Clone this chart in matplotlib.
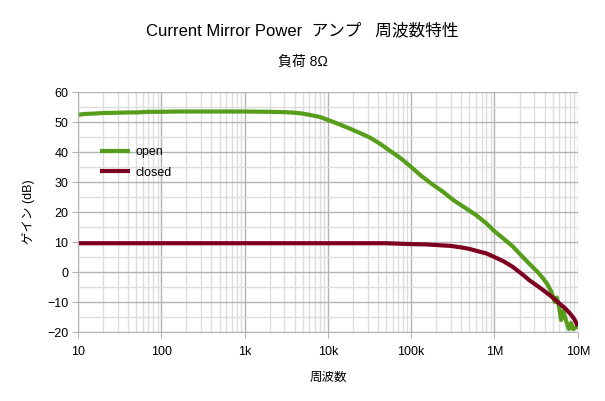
import matplotlib.pyplot as plt
from matplotlib.ticker import FixedLocator, LogLocator, MultipleLocator, NullFormatter

plt.rcParams['font.family'] = ['Liberation Sans', 'Noto Sans CJK JP', 'DejaVu Sans']

# open loop gain (dB) vs frequency (Hz)
open_freq = [10, 12, 15, 20, 30, 40, 50, 70, 100, 150, 200, 300, 500, 1000, 2000, 3000,
             4000, 5000, 6000, 8000, 10e3, 13e3, 18e3, 24e3, 32e3, 42e3, 55e3, 75e3,
             100e3, 130e3, 180e3, 240e3, 320e3, 450e3, 600e3, 800e3, 1e6, 1.3e6, 1.66e6,
             2.1e6, 2.7e6, 3.3e6, 3.8e6, 4.3e6, 4.8e6, 5.0e6, 5.3e6, 5.6e6, 6.0e6, 6.3e6,
             6.7e6, 7.2e6, 7.8e6, 8.3e6, 8.8e6, 9.5e6, 10e6]
open_gain = [52.4, 52.7, 52.8, 53.0, 53.1, 53.2, 53.2, 53.4, 53.4, 53.5, 53.5, 53.5, 53.5, 53.5, 53.4, 53.3,
             53.1, 52.8, 52.4, 51.7, 50.7, 49.5, 47.9, 46.4, 44.8, 42.8, 40.5, 37.9,
             35.0, 32.2, 29.2, 26.8, 24.0, 21.3, 19.0, 16.2, 13.6, 11.0, 8.5,
             5.5, 2.4, 0.0, -2.0, -4.0, -6.5, -8.0, -10.0, -8.5, -12.0, -16.0,
             -13.0, -16.0, -19.0, -17.0, -19.0, -18.5, -18.0]

# closed loop gain (dB)
closed_freq = [10, 100, 1000, 10e3, 50e3, 100e3, 150e3, 200e3, 300e3, 400e3, 500e3, 600e3,
               800e3, 1e6, 1.3e6, 1.66e6, 2.1e6, 2.7e6, 3.3e6, 4e6, 5e6, 5.9e6, 7e6, 8e6,
               9e6, 10e6]
closed_gain = [9.6, 9.6, 9.6, 9.6, 9.6, 9.3, 9.2, 9.0, 8.7, 8.2, 7.7, 7.1,
               6.2, 5.0, 3.5, 1.7, -0.5, -3.0, -4.7, -6.4, -8.5, -10.3, -12.0, -13.7,
               -15.5, -18.0]

xticks = [10, 100, 1e3, 1e4, 1e5, 1e6, 1e7]
xtick_labels = ['10', '100', '1k', '10k', '100k', '1M', '10M']

fig = plt.figure(figsize=(6.05, 4.01), dpi=100)
ax = fig.add_axes([0.129, 0.172, 0.826, 0.5985])

ax.plot(open_freq, open_gain, color='#579d1c', linewidth=3, label='open', solid_capstyle='butt')
ax.plot(closed_freq, closed_gain, color='#7e0021', linewidth=3, label='closed', solid_capstyle='butt')

ax.set_xscale('log')
ax.set_xlim(10, 1e7)
ax.set_ylim(-20, 60)
ax.xaxis.set_major_locator(FixedLocator(xticks))
ax.set_xticklabels(xtick_labels)
ax.xaxis.set_minor_locator(LogLocator(base=10, subs=range(2, 10), numticks=20))
ax.xaxis.set_minor_formatter(NullFormatter())
ax.yaxis.set_major_locator(MultipleLocator(10))
ax.yaxis.set_minor_locator(MultipleLocator(5))

ax.grid(which='major', color='#b3b3b3', linewidth=1)
ax.grid(which='minor', color='#dddddd', linewidth=1)
ax.set_axisbelow(True)
for s in ['top', 'right']:
    ax.spines[s].set_visible(False)
for s in ['left', 'bottom']:
    ax.spines[s].set_color('#b3b3b3')
ax.tick_params(which='major', length=4, color='#b3b3b3', labelsize=9, pad=3)
ax.tick_params(which='minor', length=0)
ax.tick_params(axis='x', pad=6)

ax.set_xlabel('周波数', fontsize=9, labelpad=10)
ax.set_ylabel('ゲイン (dB)', fontsize=9, labelpad=9)

fig.text(0.5, 0.925, 'Current Mirror Power  アンプ   周波数特性', ha='center', va='center', fontsize=12)
fig.text(0.5, 0.845, '負荷 8Ω', ha='center', va='center', fontsize=10)

ax.legend(loc='upper left', bbox_to_anchor=(0.044, 0.775), frameon=False, fontsize=9,
          handlelength=2.4, handletextpad=0.4, labelspacing=0.7, borderpad=0, borderaxespad=0)

plt.savefig('out.png')
